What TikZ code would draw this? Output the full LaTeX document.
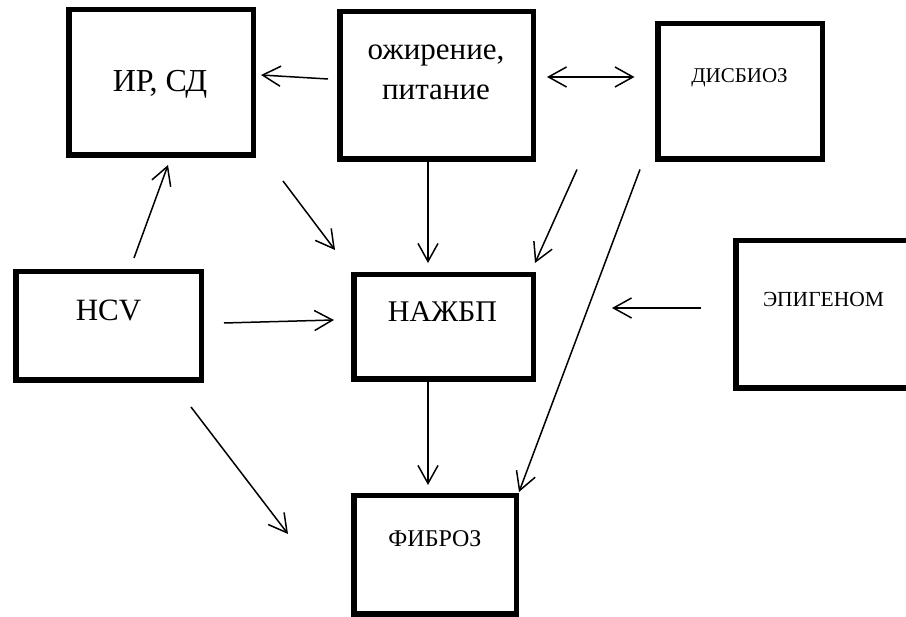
\documentclass[tikz,border=0pt]{standalone}
\usepackage{fontspec}
\setmainfont{Liberation Serif}
\usetikzlibrary{arrows.meta}
\tikzset{main node/.style={rectangle,draw,line width=5.5pt,inner sep=0pt},
         caption node/.style={inner sep=0pt,anchor=base,align=center},
         barb/.tip={Straight Barb[length=18pt,width=20pt]},
         link/.style={line width=1.5pt,-barb},
            }

\begin{document}
\begin{tikzpicture}[x=1pt,y=1pt]
    \useasboundingbox (0,0) rectangle (906,617);
    \node[main node,minimum width=184.5pt,minimum height=145.5pt] (ir) at (161,534.5) {};
    \node[main node,minimum width=193.5pt,minimum height=147.5pt] (ozh) at (436.5,531.5) {};
    \node[main node,minimum width=164.5pt,minimum height=135.5pt] (dys) at (740,525.5) {};
    \node[main node,minimum width=185.5pt,minimum height=108.5pt] (hcv) at (108.5,291) {};
    \node[main node,minimum width=179.5pt,minimum height=104.5pt] (naf) at (443.5,290) {};
    \node[main node,minimum width=172.5pt,minimum height=147.5pt] (epi) at (822,302.5) {};
    \node[main node,minimum width=162.5pt,minimum height=118.5pt] (fib) at (435,62) {};

    \node[caption node,font=\fontsize{32}{40}\selectfont] (irt) at (160,525) {ИР, СД};
    \node[caption node,font=\fontsize{31}{40}\selectfont] (ozht) at (436,517) {ожирение,\\питание};
    \node[caption node,font=\fontsize{21}{25}\selectfont] (dyst) at (739.5,534) {ДИСБИОЗ};
    \node[caption node,font=\fontsize{31}{37}\selectfont] (hcvt) at (108.5,296) {HCV};
    \node[caption node,font=\fontsize{30}{36}\selectfont] (naft) at (442.5,295) {НАЖБП};
    \node[caption node,font=\fontsize{21.5}{26}\selectfont] (epit) at (823.5,310) {ЭПИГЕНОМ};
    \node[caption node,font=\fontsize{24}{29}\selectfont] (fibt) at (435,70) {ФИБРОЗ};

    \path[link]
    ([shift={(-9pt,6.5pt)}]ozh.west) edge ([shift={(5pt,7.5pt)}]ir.east)
    ([shift={(11pt,8.5pt)}]ozh.east) edge[barb-barb] ([shift={(-20.5pt,14.5pt)}]dys.west)
    ([shift={(25.5pt,11pt)}]hcv.north) edge ([shift={(7pt,-7pt)}]ir.south)
    ([shift={(27pt,-23pt)}]ir.south east) edge ([shift={(-16pt,22pt)}]naf.north west)
    ([shift={(-8.5pt,0pt)}]ozh.south) edge ([shift={(-15.5pt,9pt)}]naf.north)
    ([shift={(-78pt,-7.5pt)}]dys.south west) edge ([shift={(-1pt,9pt)}]naf.north east)
    ([shift={(-15pt,-7.5pt)}]dys.south west) edge ([shift={(0pt,1pt)}]fib.north east)
    ([shift={(20pt,3pt)}]hcv.east) edge ([shift={(-17pt,7pt)}]naf.west)
    ([shift={(-32pt,6.5pt)}]epi.west) edge ([shift={(76pt,19pt)}]naf.east)
    ([shift={(-13pt,-24pt)}]hcv.south east) edge ([shift={(-63pt,21pt)}]fib.west)
    ([shift={(-15.5pt,0pt)}]naf.south) edge ([shift={(-7pt,8pt)}]fib.north)
    ;
\end{tikzpicture}
\end{document}
